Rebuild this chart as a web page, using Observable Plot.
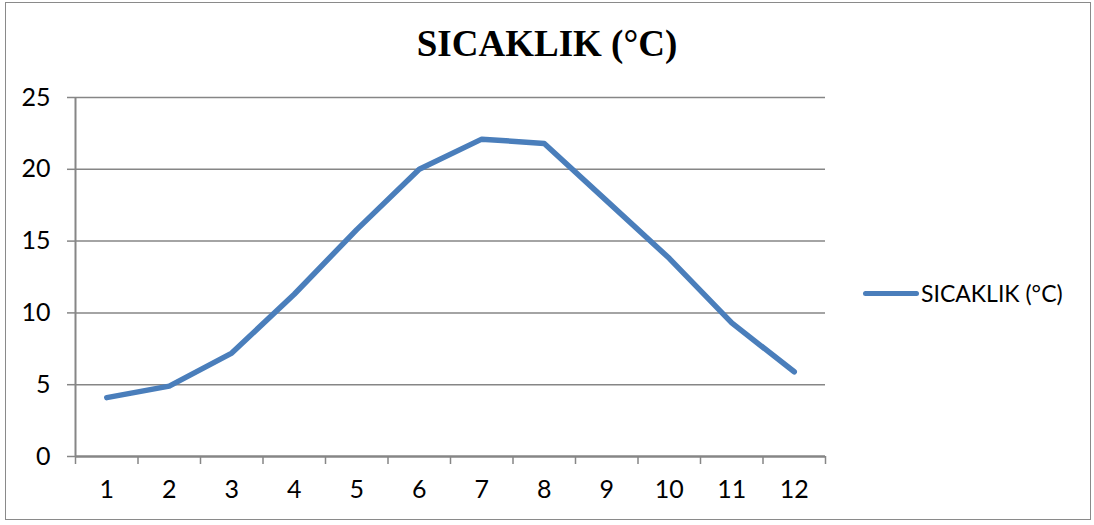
<!DOCTYPE html>
<html>
<head>
<meta charset="utf-8">
<script src="https://cdn.jsdelivr.net/npm/d3@7"></script>
<script src="https://cdn.jsdelivr.net/npm/@observablehq/plot@0.6"></script>
<style>
  html, body { margin: 0; padding: 0; background: #fff; }
  #wrap { position: relative; width: 1094px; height: 525px; overflow: hidden; background: #fff; }
  #frame { position: absolute; left: 5px; top: 2px; width: 1086px; height: 518px; border: 1.5px solid #8a8a8a; box-sizing: border-box; }
  #title { position: absolute; left: 0; width: 1094px; top: 22px; text-align: center;
           font-family: "Liberation Serif", "Times New Roman", serif; font-weight: bold; font-size: 37px; color: #000; }
  #plot { position: absolute; left: 0; top: 0; }
  #legend { position: absolute; left: 863px; top: 279px; display: flex; align-items: center;
            font-family: Lato, "Open Sans", sans-serif; font-size: 23px; color: #000; }
  #legend .sw { width: 56px; height: 5px; background: #4A7EBB; border-radius: 3px; margin-right: 2px; }
  #plot svg text { font-size: 25px; }
</style>
</head>
<body>
<div id="wrap">
  <div id="frame"></div>
  <div id="title">SICAKLIK (°C)</div>
  <div id="plot"></div>
  <div id="legend"><div class="sw"></div><span>SICAKLIK (°C)</span></div>
</div>
<script>
const seriesName = "SICAKLIK (°C)";
const months = [1, 2, 3, 4, 5, 6, 7, 8, 9, 10, 11, 12];
const temps = [4.1, 4.9, 7.2, 11.3, 15.8, 20.0, 22.1, 21.8, 17.8, 13.8, 9.3, 5.9];
const yTicks = [0, 5, 10, 15, 20, 25];
const gridValues = [5, 10, 15, 20, 25];

const data = months.map((m, i) => ({month: m, temp: temps[i]}));
const boundaries = d3.range(0.5, 13, 1);

const font = "Lato, 'Open Sans', sans-serif";

const chart = Plot.plot({
  width: 840,
  height: 515,
  marginLeft: 75,
  marginRight: 15,
  marginTop: 97,
  marginBottom: 59,
  style: {fontFamily: font, fontSize: "25px", color: "#000", background: "transparent"},
  x: {type: "linear", domain: [0.5, 12.5]},
  y: {domain: [0, 25]},
  marks: [
    Plot.ruleY(gridValues, {stroke: "#868686", strokeWidth: 1.5}),
    Plot.ruleX([0.5], {stroke: "#868686", strokeWidth: 2}),
    Plot.ruleY([0], {stroke: "#868686", strokeWidth: 2.5}),
    Plot.axisY({ticks: yTicks, tickSize: 8, tickPadding: 17, stroke: "#868686", strokeWidth: 1.5, label: null, tickFormat: d => String(d), fill: "#000", fontSize: 25}),
    Plot.axisX({ticks: boundaries, tickSize: 8, tickFormat: () => "", stroke: "#868686", strokeWidth: 1.5, label: null}),
    Plot.axisX({ticks: months, tickSize: 0, tickPadding: 24, tickFormat: d => String(d), label: null, fill: "#000", fontSize: 25}),
    Plot.line(data, {x: "month", y: "temp", stroke: "#4A7EBB", strokeWidth: 5.5, strokeLinejoin: "round", strokeLinecap: "round"})
  ]
});
document.getElementById("plot").appendChild(chart);
</script>
</body>
</html>
